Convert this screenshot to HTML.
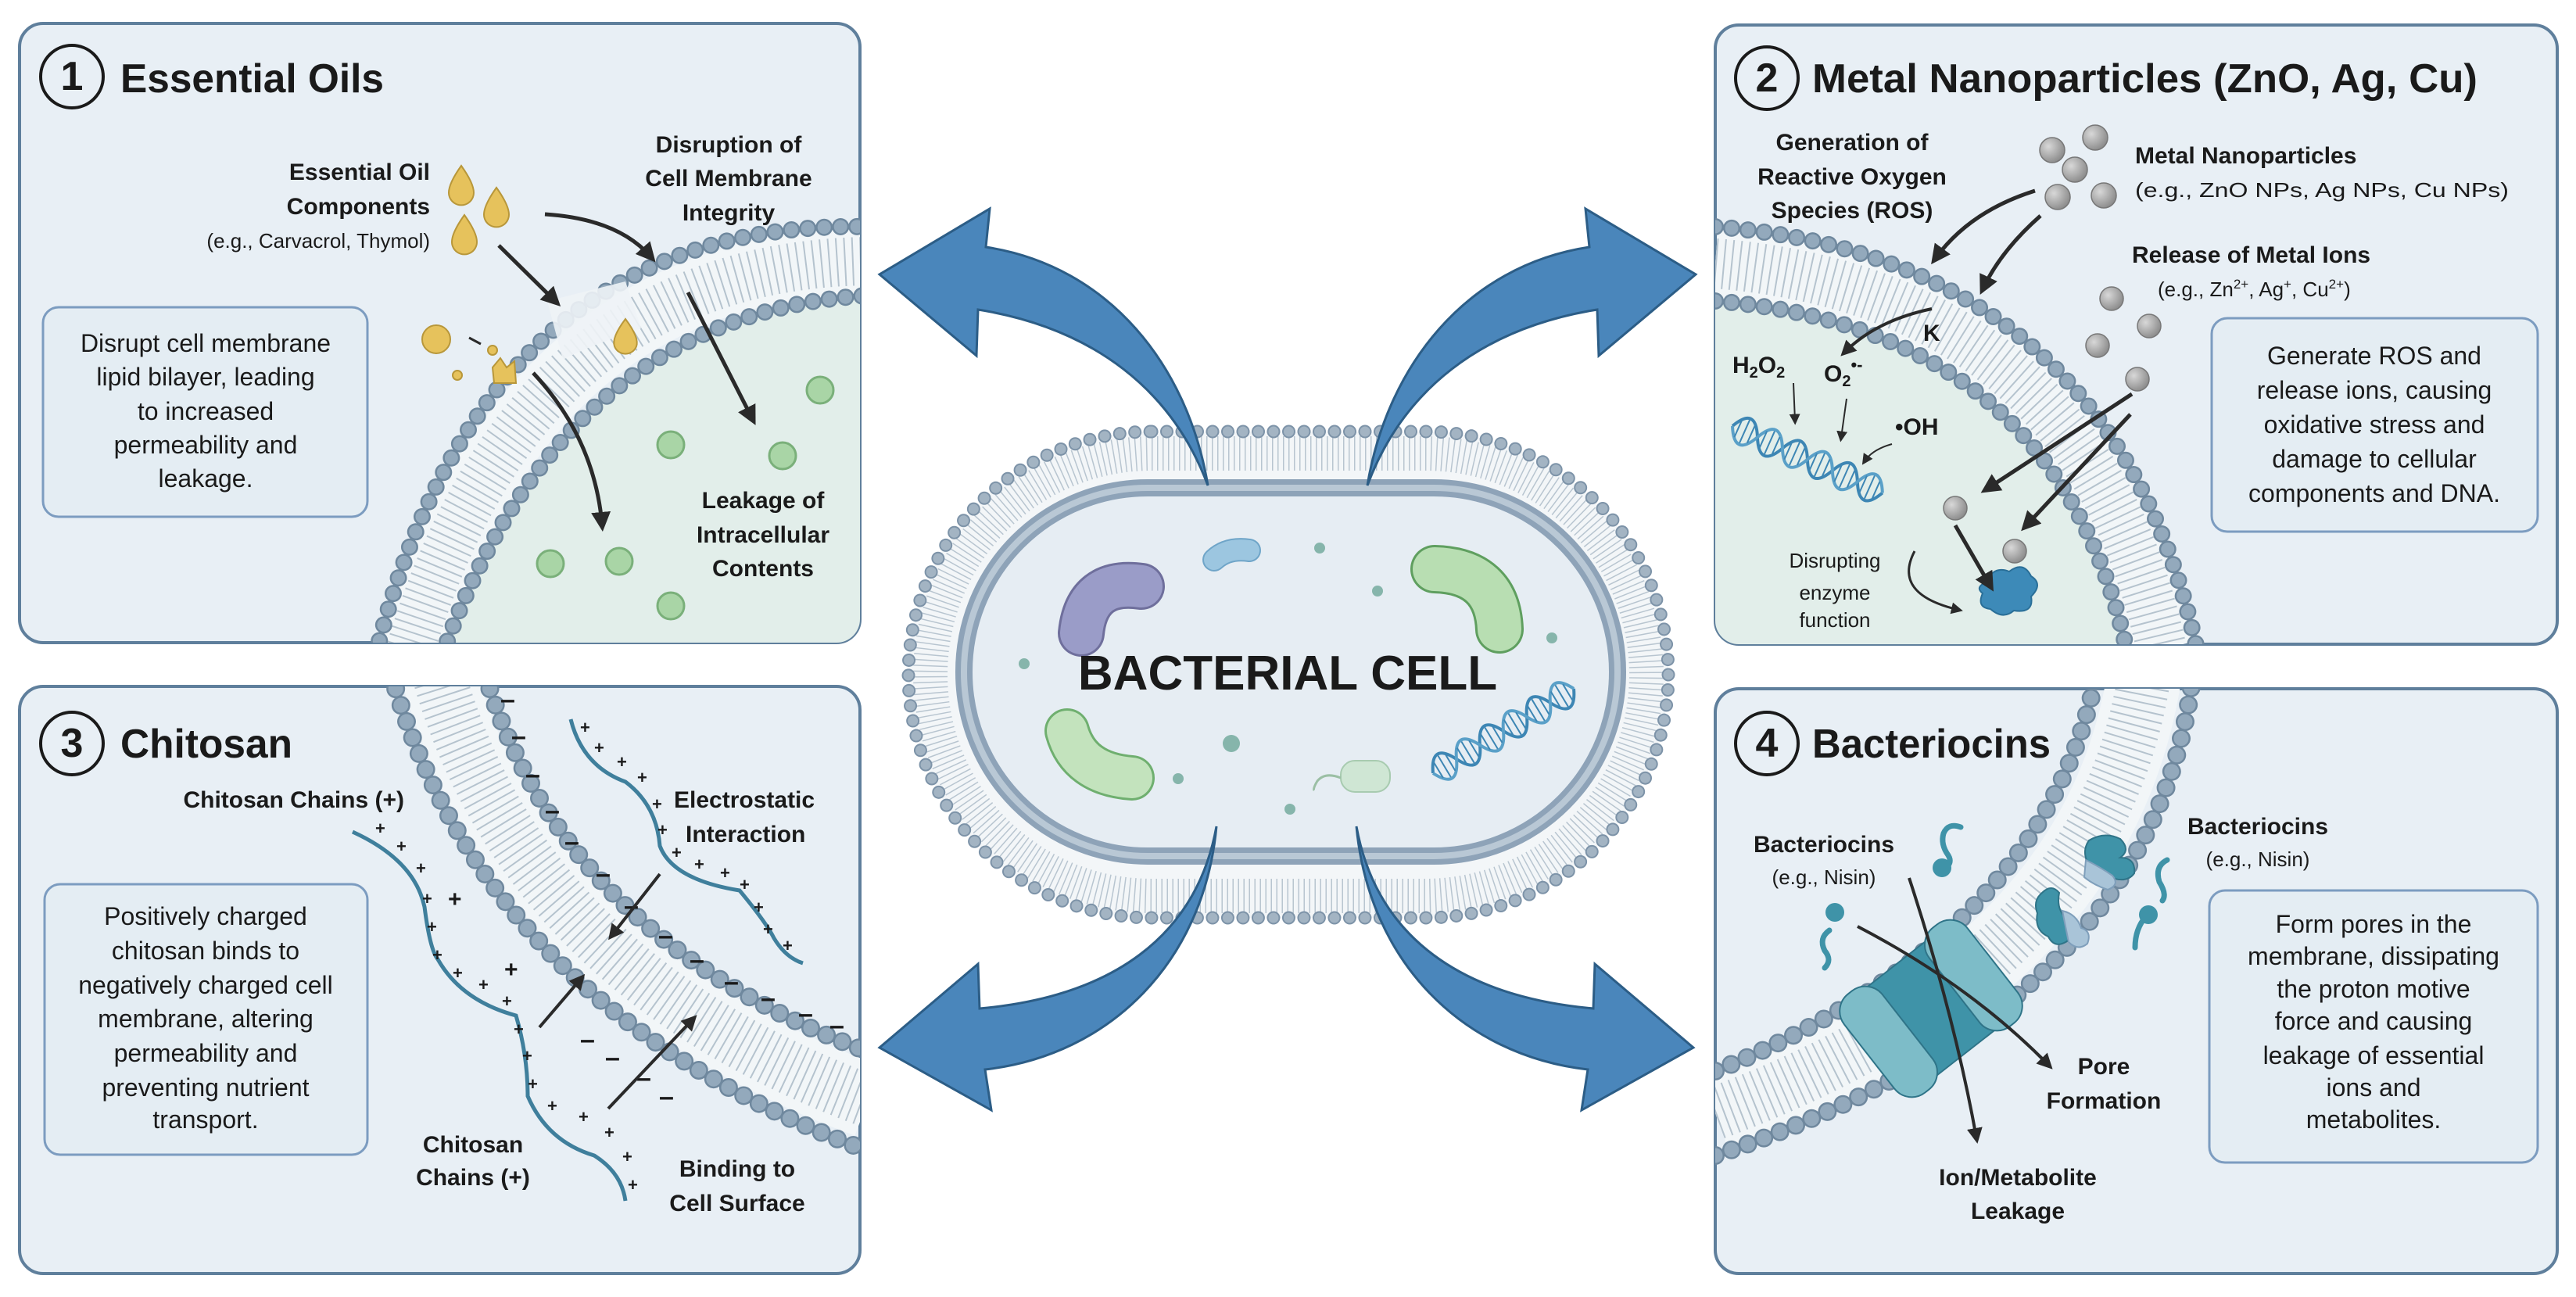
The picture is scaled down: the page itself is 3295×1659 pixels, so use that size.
<!DOCTYPE html>
<html><head><meta charset="utf-8"><style>
html,body{margin:0;padding:0;background:#fff;}
svg{display:block;}
text{font-family:"Liberation Sans",Arial,sans-serif;fill:#1a1a1a;}
.t{font-size:52px;font-weight:bold;}
.b{font-size:30px;font-weight:bold;}
.r{font-size:26px;}
.bx{font-size:32px;}
.pl{font-size:22px;fill:#3a3a6a;font-weight:bold;}
.mn{font-size:34px;fill:#333;font-weight:bold;}
</style></head><body>
<svg width="3295" height="1659" viewBox="0 0 3295 1659" xmlns="http://www.w3.org/2000/svg">
<defs>
<clipPath id="c1"><rect x="25" y="30" width="1075" height="792" rx="30"/></clipPath>
<clipPath id="c2"><rect x="2194" y="32" width="1077" height="792" rx="30"/></clipPath>
<clipPath id="c3"><rect x="25" y="878" width="1075" height="751" rx="30"/></clipPath>
<clipPath id="c4"><rect x="2194" y="881" width="1077" height="748" rx="30"/></clipPath>
<marker id="ah" viewBox="0 0 10 10" refX="6" refY="5" markerWidth="5" markerHeight="5" orient="auto"><path d="M0 0L10 5L0 10z" fill="#2a2a2a"/></marker>
<marker id="ahs" viewBox="0 0 10 10" refX="6" refY="5" markerWidth="7" markerHeight="7" orient="auto"><path d="M0 0L10 5L0 10z" fill="#2a2a2a"/></marker>
<radialGradient id="gp" cx="0.35" cy="0.35" r="0.7"><stop offset="0" stop-color="#d8d8d8"/><stop offset="1" stop-color="#8a8a8a"/></radialGradient>
</defs>

<rect x="25" y="30" width="1075" height="792" rx="30" fill="#e8eff5" stroke="#5f7f9c" stroke-width="4"/>
<rect x="2194" y="32" width="1077" height="792" rx="30" fill="#e8eff5" stroke="#5f7f9c" stroke-width="4"/>
<rect x="25" y="878" width="1075" height="751" rx="30" fill="#e8eff5" stroke="#5f7f9c" stroke-width="4"/>
<rect x="2194" y="881" width="1077" height="748" rx="30" fill="#e8eff5" stroke="#5f7f9c" stroke-width="4"/>

<!-- PANEL 1 -->
<g clip-path="url(#c1)">
<path d="M565 840 Q720 400 1110 378 L1110 830 Z" fill="#e2eeea"/>
<path d="M522 840 Q670 340 1110 334" fill="none" stroke="#f2f6f8" stroke-width="85"/>
<path d="M522 840 Q670 340 1110 334" fill="none" stroke="#b5c3ce" stroke-width="62" stroke-dasharray="2 8"/>
<path d="M480 840 Q620 280 1110 290" fill="none" stroke="#6f889e" stroke-width="22" stroke-dasharray="0 21" stroke-linecap="round"/>
<path d="M480 840 Q620 280 1110 290" fill="none" stroke="#93a9bc" stroke-width="17" stroke-dasharray="0 21" stroke-linecap="round"/>
<path d="M565 840 Q720 400 1110 378" fill="none" stroke="#6f889e" stroke-width="22" stroke-dasharray="0 21" stroke-linecap="round"/>
<path d="M565 840 Q720 400 1110 378" fill="none" stroke="#93a9bc" stroke-width="17" stroke-dasharray="0 21" stroke-linecap="round"/>
<path d="M700 385 Q740 375 800 360 L820 420 Q760 440 720 460 Z" fill="#eef3f6" opacity="0.9"/>
</g>
<circle cx="92" cy="98" r="40" fill="none" stroke="#1a1a1a" stroke-width="4"/>
<text x="92" y="115" class="t" font-size="46" text-anchor="middle">1</text>
<text x="154" y="118" class="t" textLength="337" lengthAdjust="spacingAndGlyphs">Essential Oils</text>
<text x="550" y="230" class="b" text-anchor="end">Essential Oil</text>
<text x="550" y="274" class="b" text-anchor="end">Components</text>
<text x="550" y="317" class="r" text-anchor="end">(e.g., Carvacrol, Thymol)</text>
<text x="932" y="195" class="b" text-anchor="middle">Disruption of</text>
<text x="932" y="238" class="b" text-anchor="middle">Cell Membrane</text>
<text x="932" y="282" class="b" text-anchor="middle">Integrity</text>
<text x="976" y="650" class="b" text-anchor="middle">Leakage of</text>
<text x="976" y="694" class="b" text-anchor="middle">Intracellular</text>
<text x="976" y="737" class="b" text-anchor="middle">Contents</text>
<rect x="55" y="393" width="415" height="268" rx="20" fill="#e4edf3" stroke="#7c9cc0" stroke-width="3"/>
<text x="263" y="450" class="bx" text-anchor="middle">Disrupt cell membrane</text>
<text x="263" y="493" class="bx" text-anchor="middle">lipid bilayer, leading</text>
<text x="263" y="537" class="bx" text-anchor="middle">to increased</text>
<text x="263" y="580" class="bx" text-anchor="middle">permeability and</text>
<text x="263" y="623" class="bx" text-anchor="middle">leakage.</text>
<g fill="#e6c25c" stroke="#b8973a" stroke-width="2">
<path d="M590 212 Q570 240 575 252 A16 16 0 0 0 605 252 Q610 240 590 212Z"/>
<path d="M635 240 Q615 268 620 280 A16 16 0 0 0 650 280 Q655 268 635 240Z"/>
<path d="M594 275 Q574 303 579 315 A16 16 0 0 0 609 315 Q614 303 594 275Z"/>
<path d="M800 408 Q782 432 786 443 A15 15 0 0 0 814 443 Q818 432 800 408Z"/>
<circle cx="558" cy="434" r="18"/>
<circle cx="630" cy="448" r="6"/>
<circle cx="585" cy="480" r="6"/>
<path d="M630 470 L640 458 L648 470 L658 462 L660 490 L632 490Z"/>
</g>
<g fill="#a9d5a6" stroke="#7ab07a" stroke-width="3">
<circle cx="1049" cy="499" r="17"/><circle cx="858" cy="569" r="17"/><circle cx="1001" cy="583" r="17"/>
<circle cx="704" cy="721" r="17"/><circle cx="792" cy="718" r="17"/><circle cx="858" cy="775" r="17"/>
</g>
<g fill="none" stroke="#2a2a2a" stroke-width="5">
<path d="M638 314 L710 385" marker-end="url(#ah)"/>
<path d="M697 274 Q790 280 832 328" marker-end="url(#ah)"/>
<path d="M880 374 L962 535" marker-end="url(#ah)"/>
<path d="M682 477 Q760 560 770 670" marker-end="url(#ah)"/>
<path d="M615 440 L600 432" stroke-width="3"/>
</g>

<!-- PANEL 2 -->
<g clip-path="url(#c2)">
<path d="M2194 385 Q2630 420 2720 830 L2194 830Z" fill="#e2eeea"/>
<path d="M2194 337 Q2665 375 2765 830" fill="none" stroke="#f2f6f8" stroke-width="88"/>
<path d="M2194 337 Q2665 375 2765 830" fill="none" stroke="#b5c3ce" stroke-width="64" stroke-dasharray="2 8"/>
<path d="M2194 290 Q2700 330 2810 830" fill="none" stroke="#6f889e" stroke-width="22" stroke-dasharray="0 21" stroke-linecap="round"/>
<path d="M2194 290 Q2700 330 2810 830" fill="none" stroke="#93a9bc" stroke-width="17" stroke-dasharray="0 21" stroke-linecap="round"/>
<path d="M2194 385 Q2630 420 2720 830" fill="none" stroke="#6f889e" stroke-width="22" stroke-dasharray="0 21" stroke-linecap="round"/>
<path d="M2194 385 Q2630 420 2720 830" fill="none" stroke="#93a9bc" stroke-width="17" stroke-dasharray="0 21" stroke-linecap="round"/>
</g>
<circle cx="2260" cy="100" r="40" fill="none" stroke="#1a1a1a" stroke-width="4"/>
<text x="2260" y="117" class="t" font-size="46" text-anchor="middle">2</text>
<text x="2318" y="118" class="t" textLength="851" lengthAdjust="spacingAndGlyphs">Metal Nanoparticles (ZnO, Ag, Cu)</text>
<text x="2369" y="192" class="b" text-anchor="middle">Generation of</text>
<text x="2369" y="236" class="b" text-anchor="middle">Reactive Oxygen</text>
<text x="2369" y="279" class="b" text-anchor="middle">Species (ROS)</text>
<text x="2731" y="209" class="b">Metal Nanoparticles</text>
<text x="2731" y="252" class="r" textLength="478" lengthAdjust="spacingAndGlyphs">(e.g., ZnO NPs, Ag NPs, Cu NPs)</text>
<text x="2727" y="336" class="b">Release of Metal Ions</text>
<text x="2760" y="379" class="r">(e.g., Zn<tspan font-size="17" dy="-10">2+</tspan><tspan dy="10">, Ag</tspan><tspan font-size="17" dy="-10">+</tspan><tspan dy="10">, Cu</tspan><tspan font-size="17" dy="-10">2+</tspan><tspan dy="10">)</tspan></text>
<rect x="2829" y="407" width="417" height="273" rx="20" fill="#e4edf3" stroke="#7c9cc0" stroke-width="3"/>
<text x="3037" y="466" class="bx" text-anchor="middle">Generate ROS and</text>
<text x="3037" y="510" class="bx" text-anchor="middle">release ions, causing</text>
<text x="3037" y="554" class="bx" text-anchor="middle">oxidative stress and</text>
<text x="3037" y="598" class="bx" text-anchor="middle">damage to cellular</text>
<text x="3037" y="642" class="bx" text-anchor="middle">components and DNA.</text>
<g fill="url(#gp)" stroke="#777" stroke-width="1.5">
<circle cx="2625" cy="192" r="16"/><circle cx="2680" cy="176" r="16"/><circle cx="2654" cy="217" r="16"/>
<circle cx="2632" cy="252" r="16"/><circle cx="2691" cy="250" r="16"/>
<circle cx="2701" cy="382" r="15"/><circle cx="2749" cy="417" r="15"/><circle cx="2683" cy="442" r="15"/>
<circle cx="2734" cy="485" r="15"/><circle cx="2501" cy="650" r="15"/><circle cx="2577" cy="705" r="15"/>
</g>
<text x="2216" y="477" class="b">H<tspan font-size="20" dy="6">2</tspan><tspan dy="-6">O</tspan><tspan font-size="20" dy="6">2</tspan></text>
<text x="2333" y="488" class="b">O<tspan font-size="20" dy="6">2</tspan><tspan font-size="22" dy="-20">•-</tspan></text>
<text x="2424" y="556" class="b">•OH</text>
<text x="2460" y="436" class="b" font-size="24">K</text>
<g transform="translate(2216,545) rotate(24)" fill="none" stroke="#3d86b4" stroke-width="4">
<path d="M0 0 q17.5 -36 35 0 t35 0 t35 0 t35 0 t35 0 t35 0"/>
<path d="M0 0 q17.5 36 35 0 t35 0 t35 0 t35 0 t35 0 t35 0" stroke="#5aa0c8"/>
<path d="M8 -12v24M17 -16v32M26 -12v24M43 -12v24M52 -16v32M61 -12v24M78 -12v24M87 -16v32M96 -12v24M113 -12v24M122 -16v32M131 -12v24M148 -12v24M157 -16v32M166 -12v24M183 -12v24M192 -16v32M201 -12v24" stroke-width="2"/>
</g>
<text x="2347" y="726" class="r" text-anchor="middle">Disrupting</text>
<text x="2347" y="767" class="r" text-anchor="middle">enzyme</text>
<text x="2347" y="802" class="r" text-anchor="middle">function</text>
<path d="M2540 745 q10 -22 30 -14 q18 -14 28 6 q16 10 0 26 q4 22 -22 18 q-14 12 -30 -2 q-18 -2 -10 -20 q-10 -8 4 -14z" fill="#3d8ab8" stroke="#2a6f98" stroke-width="2"/>
<g fill="none" stroke="#2a2a2a" stroke-width="5">
<path d="M2603 244 Q2520 270 2476 330" marker-end="url(#ah)"/>
<path d="M2610 276 Q2560 320 2537 368" marker-end="url(#ah)"/>
<path d="M2471 395 Q2400 410 2360 450" marker-end="url(#ah)" stroke-width="4"/>
<path d="M2727 504 L2542 625" marker-end="url(#ah)"/>
<path d="M2725 530 L2592 672" marker-end="url(#ah)"/>
<path d="M2501 672 L2545 748" marker-end="url(#ah)"/>
<path d="M2449 705 Q2420 760 2505 780" marker-end="url(#ah)" stroke-width="3"/>
<path d="M2294 490 L2296 538" marker-end="url(#ahs)" stroke-width="2"/>
<path d="M2362 510 L2355 560" marker-end="url(#ahs)" stroke-width="2"/>
<path d="M2420 568 Q2395 575 2385 590" marker-end="url(#ahs)" stroke-width="2"/>
</g>

<!-- PANEL 3 -->
<g clip-path="url(#c3)">
<path d="M560 860 Q670 1245 1110 1408" fill="none" stroke="#f2f6f8" stroke-width="95"/>
<path d="M560 860 Q670 1245 1110 1408" fill="none" stroke="#b5c3ce" stroke-width="68" stroke-dasharray="2 8"/>
<path d="M500 860 Q620 1290 1110 1472" fill="none" stroke="#6f889e" stroke-width="24" stroke-dasharray="0 22" stroke-linecap="round"/>
<path d="M500 860 Q620 1290 1110 1472" fill="none" stroke="#93a9bc" stroke-width="19" stroke-dasharray="0 22" stroke-linecap="round"/>
<path d="M620 860 Q720 1200 1110 1345" fill="none" stroke="#6f889e" stroke-width="24" stroke-dasharray="0 22" stroke-linecap="round"/>
<path d="M620 860 Q720 1200 1110 1345" fill="none" stroke="#93a9bc" stroke-width="19" stroke-dasharray="0 22" stroke-linecap="round"/>
</g>
<circle cx="92" cy="951" r="40" fill="none" stroke="#1a1a1a" stroke-width="4"/>
<text x="92" y="968" class="t" font-size="46" text-anchor="middle">3</text>
<text x="154" y="969" class="t" textLength="220" lengthAdjust="spacingAndGlyphs">Chitosan</text>
<text x="517" y="1033" class="b" text-anchor="end">Chitosan Chains (+)</text>
<text x="862" y="1033" class="b">Electrostatic</text>
<text x="877" y="1077" class="b">Interaction</text>
<text x="605" y="1474" class="b" text-anchor="middle">Chitosan</text>
<text x="605" y="1516" class="b" text-anchor="middle">Chains (+)</text>
<text x="943" y="1505" class="b" text-anchor="middle">Binding to</text>
<text x="943" y="1549" class="b" text-anchor="middle">Cell Surface</text>
<rect x="57" y="1131" width="413" height="346" rx="20" fill="#e4edf3" stroke="#7c9cc0" stroke-width="3"/>
<text x="263" y="1183" class="bx" text-anchor="middle">Positively charged</text>
<text x="263" y="1227" class="bx" text-anchor="middle">chitosan binds to</text>
<text x="263" y="1271" class="bx" text-anchor="middle">negatively charged cell</text>
<text x="263" y="1314" class="bx" text-anchor="middle">membrane, altering</text>
<text x="263" y="1358" class="bx" text-anchor="middle">permeability and</text>
<text x="263" y="1402" class="bx" text-anchor="middle">preventing nutrient</text>
<text x="263" y="1443" class="bx" text-anchor="middle">transport.</text>
<g fill="none" stroke="#3f7f9c" stroke-width="5">
<path d="M451 1064 Q530 1100 543 1160 Q550 1215 560 1227 Q590 1280 660 1299 Q675 1350 675 1402 Q700 1460 760 1478 Q795 1500 800 1536"/>
<path d="M730 920 Q745 980 800 1000 Q840 1030 844 1082 Q860 1125 946 1139 Q980 1180 990 1200 Q1005 1225 1027 1232"/>
</g>
<g class="pl">
<text x="480" y="1067">+</text><text x="507" y="1090">+</text><text x="532" y="1118">+</text><text x="540" y="1157">+</text>
<text x="573" y="1160" font-size="30">+</text><text x="546" y="1193">+</text><text x="553" y="1229">+</text><text x="579" y="1252">+</text>
<text x="612" y="1267">+</text><text x="645" y="1250" font-size="30">+</text><text x="642" y="1288">+</text><text x="657" y="1324">+</text>
<text x="668" y="1358">+</text><text x="675" y="1394">+</text><text x="700" y="1422">+</text><text x="740" y="1436">+</text>
<text x="773" y="1456">+</text><text x="796" y="1487">+</text><text x="803" y="1523">+</text>
<text x="742" y="938">+</text><text x="760" y="964">+</text><text x="789" y="982">+</text><text x="815" y="1002">+</text>
<text x="834" y="1036">+</text><text x="841" y="1069">+</text><text x="859" y="1098">+</text><text x="888" y="1113">+</text>
<text x="921" y="1124">+</text><text x="946" y="1139">+</text><text x="964" y="1168">+</text><text x="976" y="1196">+</text><text x="1001" y="1217">+</text>
</g>
<g class="mn">
<text x="640" y="906">–</text><text x="654" y="953">–</text><text x="672" y="1002">–</text><text x="697" y="1048">–</text>
<text x="722" y="1088">–</text><text x="762" y="1129">–</text><text x="798" y="1170">–</text><text x="842" y="1208">–</text>
<text x="882" y="1239">–</text><text x="926" y="1267">–</text><text x="973" y="1288">–</text><text x="1021" y="1308">–</text>
<text x="1061" y="1323">–</text><text x="742" y="1341">–</text><text x="774" y="1364">–</text><text x="814" y="1390">–</text><text x="843" y="1414">–</text>
</g>
<g fill="none" stroke="#2a2a2a" stroke-width="4">
<path d="M844 1118 L783 1196" marker-end="url(#ah)"/>
<path d="M690 1314 L743 1252" marker-end="url(#ah)"/>
<path d="M778 1418 L886 1304" marker-end="url(#ah)"/>
</g>

<!-- PANEL 4 -->
<g clip-path="url(#c4)">
<path d="M2194 1424 Q2680 1245 2742 870" fill="none" stroke="#f2f6f8" stroke-width="95"/>
<path d="M2194 1424 Q2680 1245 2742 870" fill="none" stroke="#b5c3ce" stroke-width="68" stroke-dasharray="2 8"/>
<path d="M2194 1370 Q2610 1200 2680 870" fill="none" stroke="#6f889e" stroke-width="24" stroke-dasharray="0 22" stroke-linecap="round"/>
<path d="M2194 1370 Q2610 1200 2680 870" fill="none" stroke="#93a9bc" stroke-width="19" stroke-dasharray="0 22" stroke-linecap="round"/>
<path d="M2194 1478 Q2750 1290 2804 870" fill="none" stroke="#6f889e" stroke-width="24" stroke-dasharray="0 22" stroke-linecap="round"/>
<path d="M2194 1478 Q2750 1290 2804 870" fill="none" stroke="#93a9bc" stroke-width="19" stroke-dasharray="0 22" stroke-linecap="round"/>
</g>
<circle cx="2260" cy="951" r="40" fill="none" stroke="#1a1a1a" stroke-width="4"/>
<text x="2260" y="968" class="t" font-size="46" text-anchor="middle">4</text>
<text x="2318" y="969" class="t" textLength="305" lengthAdjust="spacingAndGlyphs">Bacteriocins</text>
<text x="2333" y="1090" class="b" text-anchor="middle">Bacteriocins</text>
<text x="2333" y="1131" class="r" text-anchor="middle">(e.g., Nisin)</text>
<text x="2888" y="1067" class="b" text-anchor="middle">Bacteriocins</text>
<text x="2888" y="1108" class="r" text-anchor="middle">(e.g., Nisin)</text>
<text x="2691" y="1374" class="b" text-anchor="middle">Pore</text>
<text x="2691" y="1418" class="b" text-anchor="middle">Formation</text>
<text x="2581" y="1516" class="b" text-anchor="middle">Ion/Metabolite</text>
<text x="2581" y="1559" class="b" text-anchor="middle">Leakage</text>
<rect x="2826" y="1139" width="420" height="348" rx="20" fill="#e4edf3" stroke="#7c9cc0" stroke-width="3"/>
<text x="3036" y="1193" class="bx" text-anchor="middle">Form pores in the</text>
<text x="3036" y="1234" class="bx" text-anchor="middle">membrane, dissipating</text>
<text x="3036" y="1276" class="bx" text-anchor="middle">the proton motive</text>
<text x="3036" y="1317" class="bx" text-anchor="middle">force and causing</text>
<text x="3036" y="1361" class="bx" text-anchor="middle">leakage of essential</text>
<text x="3036" y="1402" class="bx" text-anchor="middle">ions and</text>
<text x="3036" y="1443" class="bx" text-anchor="middle">metabolites.</text>
<g transform="translate(2470,1290) rotate(-38)" stroke="#2f7488" stroke-width="2">
<rect x="-78" y="-72" width="156" height="144" rx="10" fill="#3f93a8"/>
<rect x="-100" y="-80" width="62" height="160" rx="28" fill="#7dbcc8"/>
<rect x="38" y="-80" width="62" height="160" rx="28" fill="#7dbcc8"/>
</g>
<g fill="#3f93a8" stroke="#2f7488" stroke-width="2">
<path d="M2672 1075 q20 -12 40 -2 q14 14 0 24 q20 0 18 20 q-10 14 -34 4 q-20 2 -24 -14 q-10 -18 0 -32z"/>
<path d="M2612 1142 q12 -12 22 0 q-4 20 8 32 q14 14 2 30 q-16 10 -24 -6 q-18 -8 -14 -30 q-6 -16 6 -26z"/>
<path d="M2638 1165 q18 4 24 22 q14 4 8 20 q-12 10 -24 -2z" fill="#a9c4d8" stroke="#7f9fbb"/>
<path d="M2668 1100 q20 10 34 20 q10 12 -6 18 q-18 -6 -30 -16z" fill="#a9c4d8" stroke="#7f9fbb"/>
</g>
<g fill="none" stroke="#3f93a8" stroke-width="7" stroke-linecap="round">
<path d="M2508 1058 q-16 -6 -22 8 q-4 14 6 28 q6 10 -4 16"/>
<path d="M2340 1190 q-14 10 -6 26 q10 12 0 22"/>
<path d="M2772 1100 q-16 8 -10 28 q10 16 4 24"/>
<path d="M2745 1172 q-14 16 -14 40"/>
</g>
<g fill="#3f93a8"><circle cx="2484" cy="1110" r="12"/><circle cx="2347" cy="1167" r="12"/><circle cx="2748" cy="1170" r="12"/></g>
<g fill="none" stroke="#2a2a2a" stroke-width="4">
<path d="M2376 1185 Q2520 1260 2620 1362" marker-end="url(#ah)"/>
<path d="M2442 1123 Q2500 1300 2528 1455" marker-end="url(#ah)"/>
</g>

<!-- CENTER CELL -->
<rect x="1162" y="552" width="972" height="622" rx="311" fill="#f3f6f8"/>
<rect x="1190" y="580" width="916" height="566" rx="283" fill="none" stroke="#b8c5d0" stroke-width="44" stroke-dasharray="1.5 5.5"/>
<rect x="1162" y="552" width="972" height="622" rx="311" fill="none" stroke="#7d93a8" stroke-width="17" stroke-dasharray="0 19.5" stroke-linecap="round"/>
<rect x="1162" y="552" width="972" height="622" rx="311" fill="none" stroke="#a3b4c3" stroke-width="13" stroke-dasharray="0 19.5" stroke-linecap="round"/>
<rect x="1233" y="624" width="836" height="471" rx="235" fill="#e6edf3" stroke="#8ea3b8" stroke-width="22"/>
<rect x="1233" y="624" width="836" height="471" rx="235" fill="none" stroke="#b9c8d5" stroke-width="8"/>
<path d="M1383 810 Q1390 740 1460 750" fill="none" stroke="#6f6f9c" stroke-width="60" stroke-linecap="round"/>
<path d="M1383 810 Q1390 740 1460 750" fill="none" stroke="#9a9cc8" stroke-width="54" stroke-linecap="round"/>
<path d="M1553 716 Q1570 700 1598 704" fill="none" stroke="#6fa5c8" stroke-width="30" stroke-linecap="round"/>
<path d="M1553 716 Q1570 700 1598 704" fill="none" stroke="#9cc6e0" stroke-width="26" stroke-linecap="round"/>
<path d="M1835 728 Q1915 730 1918 805" fill="none" stroke="#5f9f5f" stroke-width="62" stroke-linecap="round"/>
<path d="M1835 728 Q1915 730 1918 805" fill="none" stroke="#b8deb2" stroke-width="56" stroke-linecap="round"/>
<path d="M1365 935 Q1380 990 1448 995" fill="none" stroke="#6faf6f" stroke-width="58" stroke-linecap="round"/>
<path d="M1365 935 Q1380 990 1448 995" fill="none" stroke="#c3e3bd" stroke-width="52" stroke-linecap="round"/>
<rect x="1715" y="973" width="63" height="40" rx="18" fill="#cfe6d4" stroke="#a8cbb0" stroke-width="2"/>
<path d="M1715 995 q-20 -8 -30 4 q-6 10 -4 12" fill="none" stroke="#9bbfa4" stroke-width="3"/>
<g fill="#86b5ab"><circle cx="1688" cy="701" r="7"/><circle cx="1762" cy="756" r="7"/><circle cx="1310" cy="849" r="7"/><circle cx="1985" cy="816" r="7"/><circle cx="1575" cy="951" r="11"/><circle cx="1507" cy="996" r="7"/><circle cx="1650" cy="1035" r="7"/></g>
<g transform="translate(1833,989) rotate(-31)" fill="none" stroke="#3d86b4" stroke-width="4">
<path d="M0 0 q17.5 -36 35 0 t35 0 t35 0 t35 0 t35 0 t35 0"/>
<path d="M0 0 q17.5 36 35 0 t35 0 t35 0 t35 0 t35 0 t35 0" stroke="#5aa0c8"/>
<path d="M8 -12v24M17 -16v32M26 -12v24M43 -12v24M52 -16v32M61 -12v24M78 -12v24M87 -16v32M96 -12v24M113 -12v24M122 -16v32M131 -12v24M148 -12v24M157 -16v32M166 -12v24M183 -12v24M192 -16v32M201 -12v24" stroke-width="2"/>
</g>
<text x="1647" y="882" font-size="62" font-weight="bold" text-anchor="middle" fill="#1a1a1a">BACTERIAL CELL</text>

<g fill="#4a86bb" stroke="#2c5d86" stroke-width="3" stroke-linejoin="miter">
<path d="M1545 621 C1520 470 1420 340 1261 316 L1266 267 L1125 351 L1249 455 L1251 396 C1400 420 1500 500 1545 621 Z"/>
<path d="M1749 621 C1774 470 1874 340 2033 316 L2028 267 L2169 351 L2045 455 L2043 396 C1894 420 1794 500 1749 621 Z"/>
<path d="M1556 1057 C1530 1200 1420 1275 1253 1290 L1251 1233 L1125 1340 L1268 1420 L1260 1368 C1420 1350 1540 1230 1556 1057 Z"/>
<path d="M1735 1057 C1761 1200 1871 1275 2038 1290 L2040 1233 L2166 1340 L2023 1420 L2031 1368 C1871 1350 1751 1230 1735 1057 Z"/>
</g>
</svg>
</body></html>
